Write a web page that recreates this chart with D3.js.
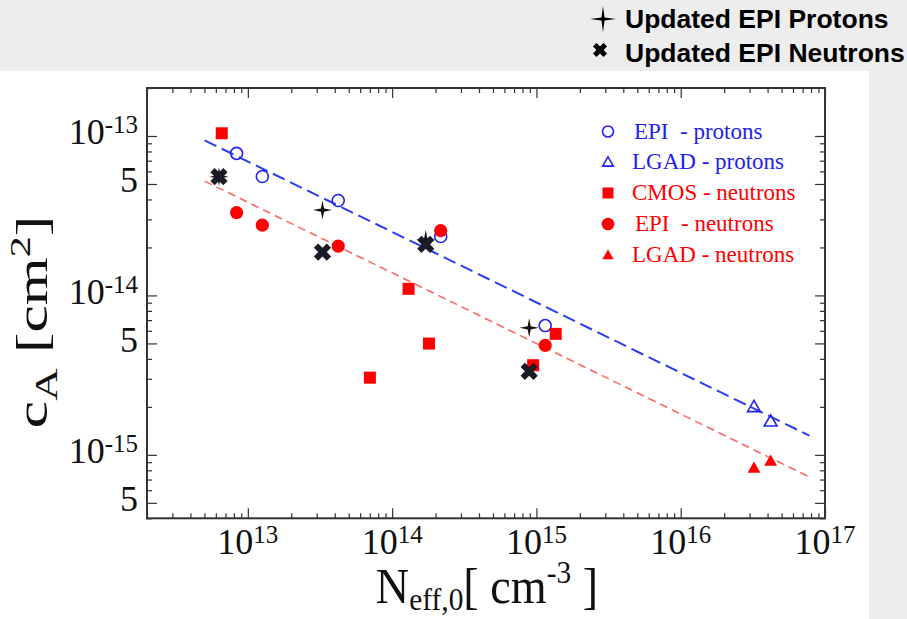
<!DOCTYPE html>
<html><head><meta charset="utf-8">
<script src="https://cdn.jsdelivr.net/npm/d3@7"></script>
<style>body{margin:0;background:#ededed;} svg{display:block;}</style>
</head><body><svg id="c" width="907" height="619"></svg>
<script>
// ---- data ----
const epiProtonsN = [8.36e12, 1.26e13, 4.23e13, 2.17e14, 1.15e15];
const epiProtonsC = [7.78e-14, 5.57e-14, 3.94e-14, 2.34e-14, 6.47e-15];
const lgadProtonsN = [3.22e16, 4.2e16];
const lgadProtonsC = [1.97e-15, 1.60e-15];
const cmosNeutronsN = [6.59e12, 7.01e13, 1.30e14, 1.80e14, 9.49e14, 1.36e15];
const cmosNeutronsC = [1.04e-13, 3.05e-15, 1.10e-14, 4.99e-15, 3.65e-15, 5.74e-15];
const epiNeutronsN = [8.36e12, 1.26e13, 4.23e13, 2.17e14, 1.15e15];
const epiNeutronsC = [3.31e-14, 2.76e-14, 2.04e-14, 2.55e-14, 4.86e-15];
const lgadNeutronsN = [3.22e16, 4.2e16];
const lgadNeutronsC = [8.16e-16, 9.02e-16];
const updProtonsN = [6.31e12, 3.29e13, 1.71e14, 8.91e14];
const updProtonsC = [5.56e-14, 3.43e-14, 2.24e-14, 6.26e-15];
const updNeutronsN = [6.31e12, 3.29e13, 1.71e14, 8.91e14];
const updNeutronsC = [5.56e-14, 1.87e-14, 2.09e-14, 3.34e-15];
const fitN = [5.02e12, 7.8e16];
const protonFitC = [9.38e-14, 1.32e-15];
const neutronFitC = [5.21e-14, 7.26e-16];
const xTickValues = [1e13, 1e14, 1e15, 1e16, 1e17];
const xTickExp = ["13", "14", "15", "16", "17"];
const yTickValues = [1e-13, 5e-14, 1e-14, 5e-15, 1e-15, 5e-16];
const yTickBase = ["10", "5", "10", "5", "10", "5"];
const yTickExp = ["-13", "", "-14", "", "-15", ""];
const legendLabels = ["EPI  - protons", "LGAD - protons", "CMOS - neutrons", "EPI  - neutrons", "LGAD - neutrons"];
const topLegendLabels = ["Updated EPI Protons", "Updated EPI Neutrons"];

// ---- setup ----
const svg = d3.select("#c");
const L = 147, R = 825, T = 88, B = 518.3;
const x = d3.scaleLog().domain([2e12, 1e17]).range([L, R]);
const y = d3.scaleLog().domain([4e-16, 2e-13]).range([B, T]);
const BLUE = "#2222f0", RED = "#ff0000", DARK = "#1b1b28";

svg.append("rect").attr("x", 0).attr("y", 71).attr("width", 869).attr("height", 548).attr("fill", "#ffffff");

// ---- ticks ----
const isMajor = v => Math.abs(Math.log10(v) - Math.round(Math.log10(v))) < 1e-6;
const xt = x.ticks();
const yt = y.ticks();
const xMaj = xt.filter(isMajor), xMin = xt.filter(v => !isMajor(v));
const yLong = yt.filter(v => isMajor(v) || Math.abs(v / Math.pow(10, Math.floor(Math.log10(v) + 1e-9)) - 5) < 1e-6);
const yShort = yt.filter(v => !yLong.includes(v));
function addAxis(fn, scale, vals, size, tr) {
  const g = svg.append("g").attr("transform", tr)
    .call(fn(scale).tickValues(vals).tickSize(-size).tickFormat(""));
  g.select(".domain").remove();
  g.selectAll("line").attr("stroke", "#333").attr("stroke-width", 1.2);
}
addAxis(d3.axisBottom, x, xMaj, 10, `translate(0,${B})`);
addAxis(d3.axisBottom, x, xMin, 5, `translate(0,${B})`);
addAxis(d3.axisTop, x, xMaj, 10, `translate(0,${T})`);
addAxis(d3.axisTop, x, xMin, 5, `translate(0,${T})`);
addAxis(d3.axisLeft, y, yLong, 10, `translate(${L},0)`);
addAxis(d3.axisLeft, y, yShort, 5, `translate(${L},0)`);
addAxis(d3.axisRight, y, yLong, 10, `translate(${R},0)`);
addAxis(d3.axisRight, y, yShort, 5, `translate(${R},0)`);

svg.append("rect").attr("x", L).attr("y", T).attr("width", R - L).attr("height", B - T)
  .attr("fill", "none").attr("stroke", "#333").attr("stroke-width", 2);

// ---- tick labels ----
const serif = "'Liberation Serif','Times New Roman',serif";
xTickValues.forEach((v, i) => {
  const t = svg.append("text").attr("x", x(v)).attr("y", 554).attr("text-anchor", "middle")
    .attr("font-family", serif).attr("fill", "#111");
  t.append("tspan").attr("font-size", 36).text("10");
  t.append("tspan").attr("font-size", 25).attr("dy", -11).text(xTickExp[i]);
});
yTickValues.forEach((v, i) => {
  const t = svg.append("text").attr("x", 138).attr("y", y(v) + 8.5).attr("text-anchor", "end")
    .attr("font-family", serif).attr("fill", "#111");
  t.append("tspan").attr("font-size", 36).text(yTickBase[i]);
  if (yTickExp[i]) t.append("tspan").attr("font-size", 25).attr("dy", -11).text(yTickExp[i]);
});

// ---- axis titles ----
const xt1 = svg.append("text").attr("transform", "translate(487,603) scale(1.05,1.15)")
  .attr("text-anchor", "middle").attr("font-family", serif).attr("font-size", 44).attr("fill", "#111");
xt1.append("tspan").text("N");
xt1.append("tspan").attr("font-size", 28).attr("dy", 6).text("eff,0");
xt1.append("tspan").attr("dy", -6).text("[ cm");
xt1.append("tspan").attr("font-size", 28).attr("dy", -17).text("-3");
xt1.append("tspan").attr("dy", 17).text(" ]");

const yt1 = svg.append("text").attr("transform", "translate(47,322) rotate(-90) scale(1.4,1)")
  .attr("text-anchor", "middle").attr("font-family", serif).attr("font-size", 44).attr("fill", "#111");
yt1.append("tspan").text("c");
yt1.append("tspan").attr("font-size", 32).attr("dy", 10).text("A");
yt1.append("tspan").attr("dy", -10).text(" [cm");
yt1.append("tspan").attr("font-size", 30).attr("dy", -17).text("2");
yt1.append("tspan").attr("dy", 17).text("]");

// ---- fit lines ----
const line = d3.line().x(d => x(d[0])).y(d => y(d[1]));
svg.append("path").datum(d3.zip(fitN, protonFitC)).attr("d", line)
  .attr("fill", "none").attr("stroke", "#2a3df0").attr("stroke-width", 2).attr("stroke-dasharray", "13,6");
svg.append("path").datum(d3.zip(fitN, neutronFitC)).attr("d", line)
  .attr("fill", "none").attr("stroke", "#ff6868").attr("stroke-width", 1.6).attr("stroke-dasharray", "8,5");

// ---- markers ----
const tri = d3.symbol().type(d3.symbolTriangle).size(72)();
const cross = d3.symbol().type(d3.symbolCross).size(185)();
function star4(Ro, ri) {
  const pts = [];
  for (let i = 0; i < 8; i++) {
    const a = i * Math.PI / 4, rad = i % 2 === 0 ? Ro : ri;
    pts.push([rad * Math.sin(a), -rad * Math.cos(a)]);
  }
  return d3.line()(pts) + "Z";
}
const starPath = star4(9.5, 2.2);

function pts(N, C) { return d3.zip(N, C); }
svg.append("g").selectAll("circle").data(pts(epiProtonsN, epiProtonsC)).join("circle")
  .attr("cx", d => x(d[0])).attr("cy", d => y(d[1])).attr("r", 6)
  .attr("fill", "none").attr("stroke", BLUE).attr("stroke-width", 1.6);
svg.append("g").selectAll("path").data(pts(lgadProtonsN, lgadProtonsC)).join("path")
  .attr("transform", d => `translate(${x(d[0])},${y(d[1])})`).attr("d", tri)
  .attr("fill", "none").attr("stroke", BLUE).attr("stroke-width", 1.6);
svg.append("g").selectAll("rect").data(pts(cmosNeutronsN, cmosNeutronsC)).join("rect")
  .attr("x", d => x(d[0]) - 6).attr("y", d => y(d[1]) - 6).attr("width", 12).attr("height", 12)
  .attr("fill", RED);
svg.append("g").selectAll("circle").data(pts(epiNeutronsN, epiNeutronsC)).join("circle")
  .attr("cx", d => x(d[0])).attr("cy", d => y(d[1])).attr("r", 6.6).attr("fill", RED);
svg.append("g").selectAll("path").data(pts(lgadNeutronsN, lgadNeutronsC)).join("path")
  .attr("transform", d => `translate(${x(d[0])},${y(d[1])})`).attr("d", tri).attr("fill", RED);
svg.append("g").selectAll("path").data(pts(updProtonsN, updProtonsC)).join("path")
  .attr("transform", d => `translate(${x(d[0])},${y(d[1])})`).attr("d", starPath).attr("fill", "#111");
svg.append("g").selectAll("path").data(pts(updNeutronsN, updNeutronsC)).join("path")
  .attr("transform", d => `translate(${x(d[0])},${y(d[1])}) rotate(45)`).attr("d", cross).attr("fill", DARK);

// ---- inner legend ----
const legY = [131.5, 162, 193, 224, 255];
const legX = [634, 632, 632, 635, 632];
const legColor = [BLUE, BLUE, RED, RED, RED];
const mx = 608;
const lg = svg.append("g");
lg.append("circle").attr("cx", mx).attr("cy", legY[0]).attr("r", 5.5).attr("fill", "none").attr("stroke", BLUE).attr("stroke-width", 1.6);
lg.append("path").attr("transform", `translate(${mx},${legY[1] + 1})`).attr("d", d3.symbol().type(d3.symbolTriangle).size(50)()).attr("fill", "none").attr("stroke", BLUE).attr("stroke-width", 1.6);
lg.append("rect").attr("x", mx - 5.5).attr("y", legY[2] - 5.5).attr("width", 11).attr("height", 11).attr("fill", RED);
lg.append("circle").attr("cx", mx).attr("cy", legY[3]).attr("r", 6.3).attr("fill", RED);
lg.append("path").attr("transform", `translate(${mx},${legY[4] + 1})`).attr("d", d3.symbol().type(d3.symbolTriangle).size(55)()).attr("fill", RED);
legendLabels.forEach((s, i) => {
  lg.append("text").attr("x", legX[i]).attr("y", legY[i] + 7).attr("font-family", serif)
    .attr("font-size", 23).attr("fill", legColor[i]).style("white-space", "pre").text(s);
});

// ---- top legend ----
const sans = "'Liberation Sans',Arial,sans-serif";
svg.append("path").attr("transform", "translate(603,19)").attr("d", star4(13, 2.2)).attr("fill", "#000");
svg.append("path").attr("transform", "translate(600,50) rotate(45)").attr("d", d3.symbol().type(d3.symbolCross).size(125)()).attr("fill", "#000");
topLegendLabels.forEach((s, i) => {
  svg.append("text").attr("x", 625).attr("y", [28, 62][i]).attr("font-family", sans).attr("font-weight", "bold")
    .attr("font-size", 26.5).attr("fill", "#000").text(s);
});
</script></body></html>
